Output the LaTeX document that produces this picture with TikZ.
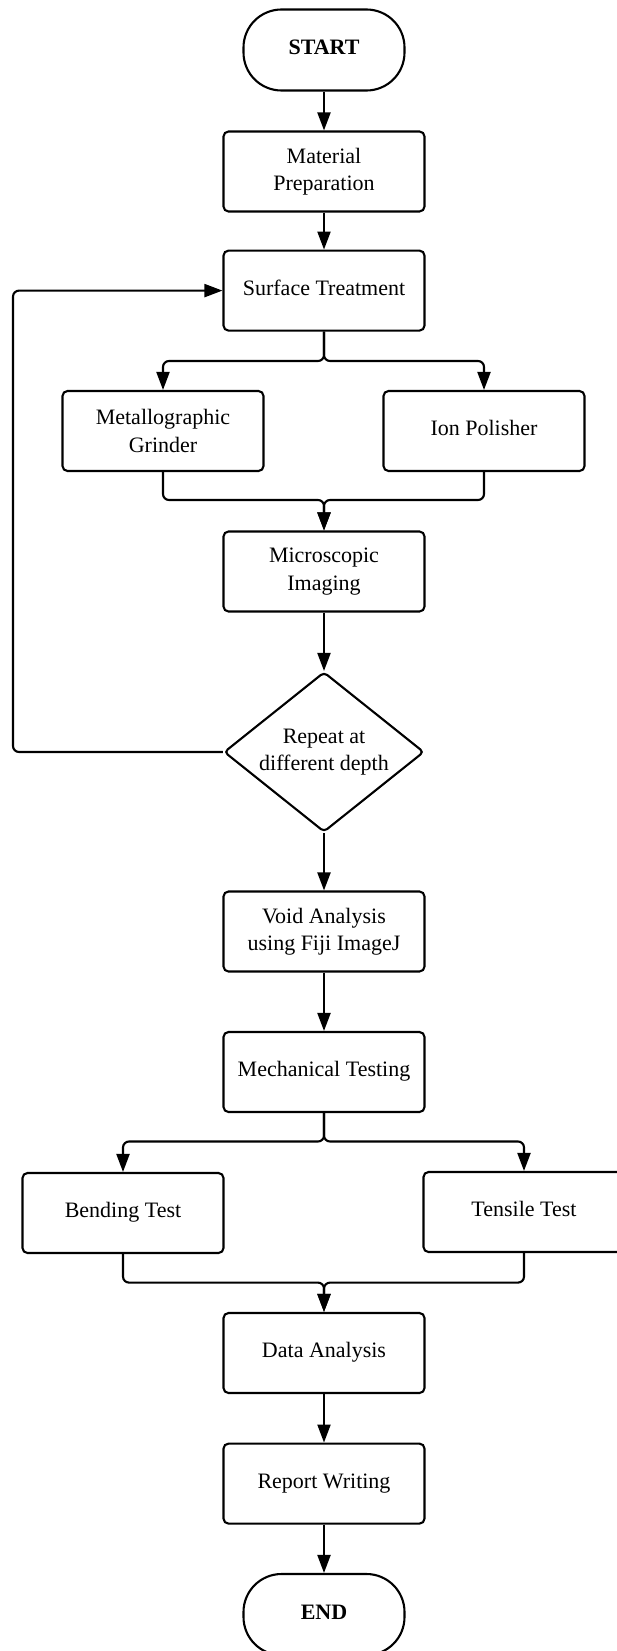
\documentclass[tikz,border=0pt]{standalone}
\usepackage{fontspec}
\setmainfont{Liberation Serif}
\usetikzlibrary{arrows.meta,shapes.geometric}
\begin{document}
\begin{tikzpicture}[x=1pt,y=-1pt,
  txt/.style={font=\fontsize{22}{27.5}\selectfont},
  box/.style={txt, draw, line width=2.1pt, rounded corners=5pt, minimum width=201pt, minimum height=80pt, align=center, inner sep=0pt},
  one/.style={text height=15pt, text depth=6pt},
  term/.style={box, one, minimum width=161pt, minimum height=81pt, rounded corners=38pt, font=\fontsize{22}{27.5}\selectfont\bfseries},
  dec/.style={txt, draw, line width=2.1pt, diamond, aspect=1.25, minimum width=200pt, minimum height=160pt, inner sep=0pt, rounded corners=4pt, align=center},
  conn/.style={line width=2.1pt, -{Triangle[length=18pt,width=13pt]}, rounded corners=6pt}
]
\useasboundingbox (0,0) rectangle (616,1651);
\node[term] (start) at (324,50) {START};
\node[box] (mat) at (324,171.5) {Material\\Preparation};
\node[box, one] (surf) at (324,290.6) {Surface Treatment};
\node[box] (grind) at (163,431) {Metallographic\\Grinder};
\node[box, one] (ion) at (484,431) {Ion Polisher};
\node[box] (micro) at (324,571.5) {Microscopic\\Imaging};
\node[dec] (rep) at (324,752) {Repeat at\\different depth};
\node[box] (void) at (324,931.5) {Void Analysis\\using Fiji ImageJ};
\node[box, one] (mech) at (324,1072) {Mechanical Testing};
\node[box, one] (bend) at (123,1213) {Bending Test};
\node[box, one] (tens) at (524,1212) {Tensile Test};
\node[box, one] (data) at (324,1353) {Data Analysis};
\node[box, one] (rw) at (324,1483.6) {Report Writing};
\node[term] (end) at (324,1614.5) {END};

\coordinate (b1) at (324,361);
\coordinate (m1) at (324,500);
\coordinate (fbl) at (13,752);
\coordinate (b2) at (324,1141.5);
\coordinate (m2) at (324,1282.6);

\draw[conn] (start) -- (mat);
\draw[conn] (mat) -- (surf);
\draw[conn] (surf.south) -- (b1) -| (grind.north);
\draw[conn] (surf.south) -- (b1) -| (ion.north);
\draw[conn] (grind.south) |- (m1) -- (micro.north);
\draw[conn] (ion.south) |- (m1) -- (micro.north);
\draw[conn] (micro) -- (rep);
\draw[conn] (rep.west) -- (fbl) |- (surf.west);
\draw[conn] (rep) -- (void);
\draw[conn] (void) -- (mech);
\draw[conn] (mech.south) -- (b2) -| (bend.north);
\draw[conn] (mech.south) -- (b2) -| (tens.north);
\draw[conn] (bend.south) |- (m2) -- (data.north);
\draw[conn] (tens.south) |- (m2) -- (data.north);
\draw[conn] (data) -- (rw);
\draw[conn] (rw) -- (end);
\end{tikzpicture}
\end{document}
